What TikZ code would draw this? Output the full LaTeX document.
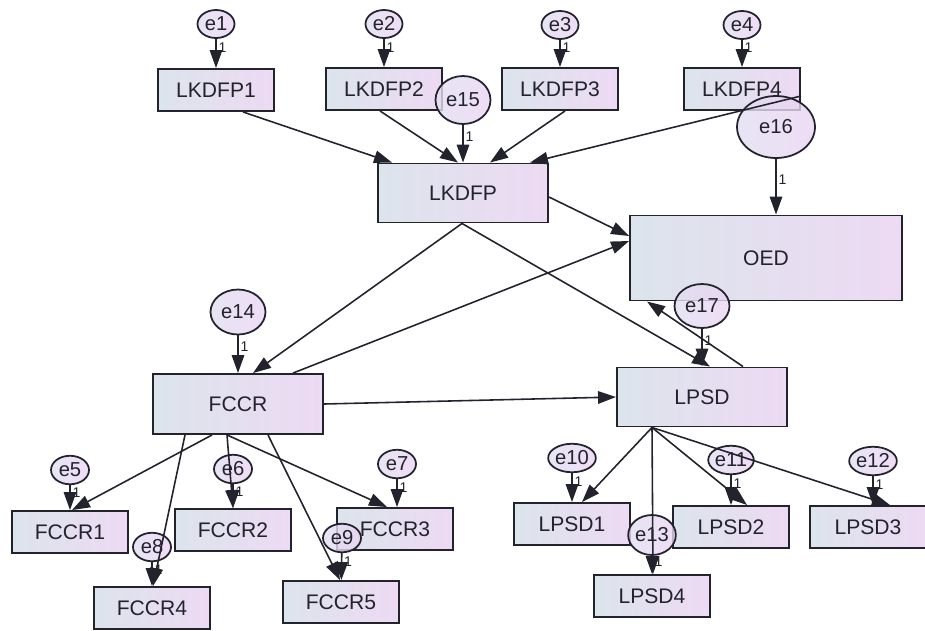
\documentclass[tikz,border=0pt]{standalone}
\usepackage{fontspec}
\setmainfont{Liberation Sans}
\usetikzlibrary{arrows.meta, calc, shapes.geometric}
\definecolor{boxleft}{RGB}{220,228,236}
\definecolor{boxright}{RGB}{237,218,243}
\definecolor{errleft}{RGB}{226,222,240}
\definecolor{errright}{RGB}{234,212,242}
\definecolor{ink}{RGB}{35,35,45}
\tikzset{every node/.append style={align=center}}

\begin{document}
\begin{tikzpicture}[x=0.02cm, y=-0.02cm,
    item/.style={rectangle, draw=ink, line width=1.1pt, left color=boxleft,
        right color=boxright, minimum width=2.32cm, minimum height=0.84cm,
        inner sep=0pt, font=\fontsize{12}{14}\selectfont, text=ink},
    latent/.style={item, minimum width=3.4cm, minimum height=1.18cm},
    err/.style={ellipse, draw=ink, line width=1pt, left color=errleft,
        right color=errright, fill opacity=0.8, text opacity=1, inner sep=0pt,
        minimum width=0.76cm, minimum height=0.57cm,
        font=\fontsize{11.5}{12}\selectfont, text=ink},
    bigerr/.style={err, minimum width=1.1cm, minimum height=0.9cm},
    arr/.style={-{Triangle[length=0.36cm, width=0.25cm]}, line width=0.9pt, ink},
    one/.style={pos=0.3, right, inner sep=1pt, font=\fontsize{8}{9}\selectfont, text=ink}
]
\useasboundingbox (0,0) rectangle (925,630);
% indicators of LKDFP
\node[item] (LKDFP1) at (216,90) {LKDFP1};
\node[item] (LKDFP2) at (384,89) {LKDFP2};
\node[item] (LKDFP3) at (560,89) {LKDFP3};
\node[item] (LKDFP4) at (742,89) {LKDFP4};
% main constructs
\node[latent] (LKDFP) at (463,193) {LKDFP};
\node[latent, minimum width=5.44cm, minimum height=1.7cm] (OED) at (766,258) {OED};
\node[latent, minimum height=1.2cm] (FCCR) at (238,404) {FCCR};
\node[latent] (LPSD) at (702,397) {LPSD};
% indicators of FCCR
\node[item] (FCCR1) at (70,532) {FCCR1};
\node[item] (FCCR2) at (233,530) {FCCR2};
\node[item] (FCCR3) at (395,529) {FCCR3};
\node[item] (FCCR4) at (152,608) {FCCR4};
\node[item] (FCCR5) at (341,602) {FCCR5};
% indicators of LPSD
\node[item] (LPSD1) at (572,524) {LPSD1};
\node[item] (LPSD2) at (731,527) {LPSD2};
\node[item] (LPSD3) at (868,527) {LPSD3};
\node[item] (LPSD4) at (652,596) {LPSD4};
% error terms
\node[err, minimum width=0.74cm, minimum height=0.56cm] (e1) at (216,24) {e1};
\node[err, minimum width=0.74cm, minimum height=0.56cm] (e2) at (384,24) {e2};
\node[err, minimum width=0.74cm, minimum height=0.56cm] (e3) at (560,25) {e3};
\node[err, minimum width=0.74cm, minimum height=0.56cm] (e4) at (742,25) {e4};
\node[err] (e5) at (70,470) {e5};
\node[err] (e6) at (233,469) {e6};
\node[err] (e7) at (397,464) {e7};
\node[err] (e8) at (152,547) {e8};
\node[err] (e9) at (342,538) {e9};
\node[err] (e10) at (572,458) {e10};
\node[err] (e11) at (731,460) {e11};
\node[err] (e12) at (873,461) {e12};
\node[err, minimum height=0.8cm] (e13) at (652,535) {e13};
\node[bigerr] (e14) at (238,312) {e14};
\node[bigerr, minimum height=0.96cm] (e15) at (463,100) {e15};
\node[bigerr, minimum width=1.56cm, minimum height=1.24cm] (e16) at (776,127) {e16};
\node[bigerr, minimum height=0.88cm] (e17) at (702,306) {e17};
% error paths
\draw[arr] (e1) -- (LKDFP1) node[one] {1};
\draw[arr] (e2) -- (LKDFP2) node[one] {1};
\draw[arr] (e3) -- (LKDFP3) node[one] {1};
\draw[arr] (e4) -- (LKDFP4) node[one] {1};
\draw[arr] (e15) -- (LKDFP) node[one] {1};
\draw[arr] (e16) -- (e16 |- OED.north) node[one, pos=0.38] {1};
\draw[arr] (e14) -- (FCCR) node[one] {1};
\draw[arr] (e17) -- (LPSD) node[one] {1};
\draw[arr] (e5) -- (FCCR1) node[one] {1};
\draw[arr] (e6) -- (FCCR2) node[one] {1};
\draw[arr] (e7) -- (e7 |- FCCR3.north) node[one] {1};
\draw[arr] (e8) -- (FCCR4) node[one] {1};
\draw[arr] (e9) -- (FCCR5) node[one] {1};
\draw[arr] (e10) -- (LPSD1) node[one] {1};
\draw[arr] (e11) -- (LPSD2) node[one] {1};
\draw[arr] (e12) -- (e12 |- LPSD3.north) node[one] {1};
\draw[arr] (e13) -- (LPSD4) node[one] {1};
% indicators -> LKDFP
\draw[arr] ($(LKDFP1.south)+(27,0)$) -- ($(LKDFP.north)+(-71,0)$);
\draw[arr] ($(LKDFP2.south)+(-4,0)$) -- ($(LKDFP.north)+(-5,0)$);
\draw[arr] ($(LKDFP3.south)+(5,0)$) -- ($(LKDFP.north)+(27,0)$);
\draw[arr] ($(LKDFP4.east)+(0,7)$) -- ($(LKDFP.north)+(67,0)$);
% structural paths
\draw[arr] ($(LKDFP.east)+(0,4)$) -- ($(OED.west)+(0,-22)$);
\draw[arr] ($(FCCR.north)+(55,0)$) -- ($(OED.west)+(0,-17)$);
\draw[arr] ($(LKDFP.south)+(-1,0)$) -- ($(FCCR.north)+(15,0)$);
\draw[arr] ($(LKDFP.south)+(-1,0)$) -- ($(LPSD.north)+(8,0)$);
\draw[arr] ($(LPSD.north)+(41,0)$) -- ($(OED.south)+(-119,0)$);
\draw[arr] (FCCR.east) -- (LPSD.west);
% FCCR -> indicators
\draw[arr] ($(FCCR.south)+(-26,0)$) -- ($(FCCR1.north)+(2,0)$);
\draw[arr] ($(FCCR.south)+(-53,0)$) -- ($(FCCR4.north)+(1,0)$);
\draw[arr] ($(FCCR.south)+(-11,0)$) -- (FCCR2.north);
\draw[arr] ($(FCCR.south)+(-11,0)$) -- ($(FCCR3.north)+(-8,0)$);
\draw[arr] ($(FCCR.south)+(30,0)$) -- ($(FCCR5.north)+(-1,0)$);
% LPSD -> indicators
\draw[arr] ($(LPSD.south)+(-50,0)$) -- ($(LPSD1.north)+(10,0)$);
\draw[arr] ($(LPSD.south)+(-50,0)$) -- ($(LPSD4.north)+(1,0)$);
\draw[arr] ($(LPSD.south)+(-50,0)$) -- ($(LPSD2.north)+(16,0)$);
\draw[arr] ($(LPSD.south)+(-50,0)$) -- ($(LPSD3.north)+(22,0)$);
\end{tikzpicture}
\end{document}
